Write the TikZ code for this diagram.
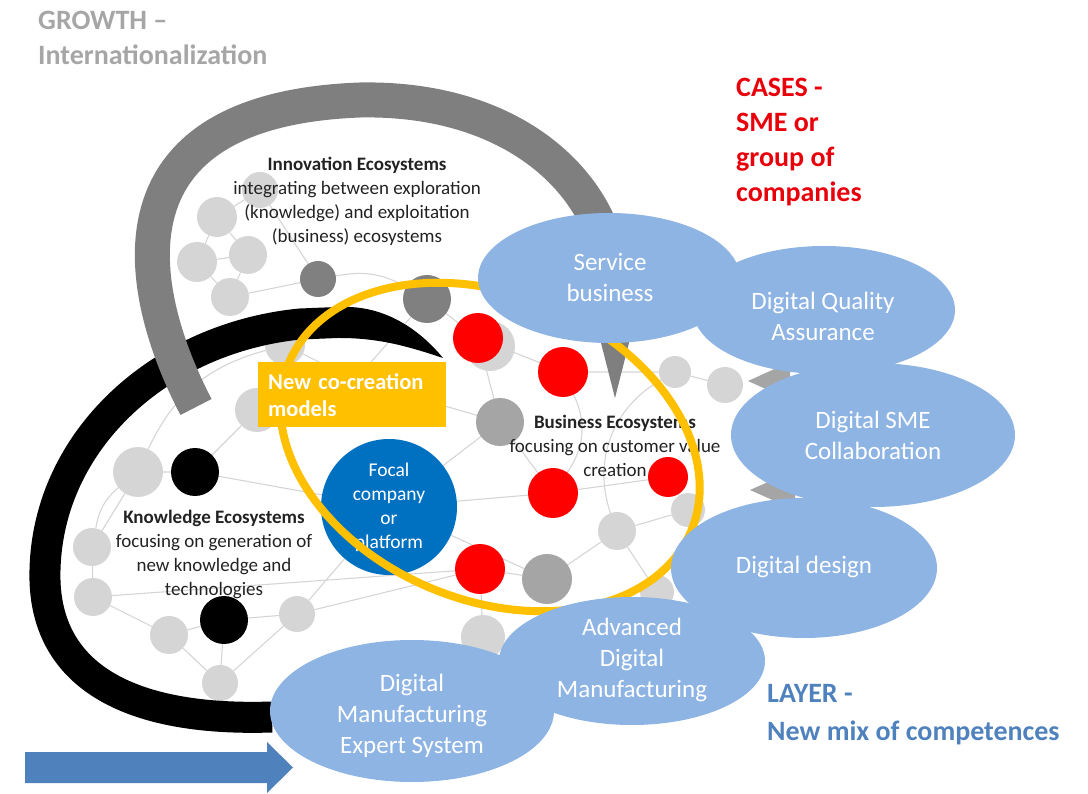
\documentclass[tikz,border=0pt]{standalone}
\usepackage{fontspec}
\setmainfont{Carlito}
\usetikzlibrary{shapes.geometric,backgrounds}
\definecolor{ellblue}{HTML}{8EB4E3}
\definecolor{focalblue}{HTML}{0070C0}
\definecolor{ringyellow}{HTML}{FFC000}
\definecolor{arcgray}{HTML}{7F7F7F}
\definecolor{nodelight}{HTML}{D5D5D5}
\definecolor{nodemid}{HTML}{A5A5A5}
\definecolor{nodedark}{HTML}{808080}
\definecolor{nodered}{HTML}{FF0000}
\definecolor{edgegray}{HTML}{D5D5D5}
\definecolor{growthgray}{HTML}{A6A6A6}
\definecolor{casered}{HTML}{E8000B}
\definecolor{layerblue}{HTML}{4F81BD}
\definecolor{textdark}{HTML}{222222}
\begin{document}
\begin{tikzpicture}[x=1pt,y=-1pt,
  nd/.style={circle,draw=none,inner sep=0pt,outer sep=0pt},
  lg/.style={nd,fill=nodelight},
  mg/.style={nd,fill=nodemid},
  dg/.style={nd,fill=nodedark},
  bk/.style={nd,fill=black},
  rd/.style={nd,fill=nodered},
  edge/.style={draw=edgegray,line width=1.1pt},
  eco/.style={align=center,text=textdark,inner sep=0pt,font=\fontsize{19}{24}\selectfont},
  blob/.style={ellipse,fill=ellblue,draw=none,inner sep=0pt},
  blobtext/.style={align=center,text=white,inner sep=0pt,font=\fontsize{25}{31}\selectfont},
  bigtitle/.style={anchor=north west,align=left,inner sep=0pt,font=\bfseries\fontsize{28}{35}\selectfont},
]
\useasboundingbox (0,0) rectangle (1088,794);

% ---------- network nodes ----------
\node[lg,minimum size=36] (n1) at (260,190) {};
\node[lg,minimum size=40] (n2) at (217,217) {};
\node[lg,minimum size=40] (n3) at (197,262) {};
\node[lg,minimum size=38] (n4) at (248,255) {};
\node[lg,minimum size=38] (n5) at (230,297) {};
\node[lg,minimum size=40] (n6) at (285,345) {};
\node[lg,minimum size=44] (n7) at (257,410) {};
\node[lg,minimum size=36] (n8) at (355,380) {};
\node[lg,minimum size=50] (n9) at (138,472) {};
\node[lg,minimum size=38] (n10) at (92,547) {};
\node[lg,minimum size=38] (n11) at (93,597) {};
\node[lg,minimum size=38] (n12) at (169,635) {};
\node[lg,minimum size=36] (n13) at (297,614) {};
\node[lg,minimum size=36] (n14) at (220,683) {};
\node[lg,minimum size=44] (n15) at (483,637) {};
\node[lg,minimum size=50] (n16) at (490,346) {};
\node[lg,minimum size=32] (n17) at (675,372) {};
\node[lg,minimum size=36] (n18) at (725,385) {};
\node[lg,minimum size=34] (n19) at (688,510) {};
\node[lg,minimum size=38] (n20) at (617,531) {};
\node[lg,minimum size=34] (n21) at (657,592) {};
\node[bk,minimum size=48] (b1) at (195,472) {};
\node[bk,minimum size=48] (b2) at (224,620) {};
\node[dg,minimum size=36] (d1) at (318,279) {};
\node[dg,minimum size=48] (d2) at (427,299) {};
\node[mg,minimum size=48] (m1) at (500,422) {};
\node[mg,minimum size=50] (m2) at (547,579) {};
\node[rd,minimum size=50] (r1) at (478,338) {};
\node[rd,minimum size=50] (r2) at (563,372) {};
\node[rd,minimum size=50] (r3) at (553,493) {};
\node[rd,minimum size=40] (r4) at (668,477) {};
\node[rd,minimum size=50] (r5) at (480,569) {};
\node[circle,fill=focalblue,minimum size=136,inner sep=0pt,text=white,align=center,font=\fontsize{19.5}{24}\selectfont] (focal) at (389,507) {Focal\\company\\or\\platform};

% ---------- network edges (behind) ----------
\begin{scope}[on background layer]
\draw[edge] (n1)--(n2) (n2)--(n3) (n3)--(n4) (n2)--(n4) (n4)--(n5) (n3)--(n5)
  (n1)--(d1) (n5)--(d1);
\draw[edge] (d1) to[bend left=20] (d2);
\draw[edge] (d2)--(r1) (r1)--(r2) (r1)--(m1) (m1)--(focal) (m1)--(r3) (r3)--(r4)
  (r4)--(n19) (n19)--(n20) (n20)--(n21) (n20)--(m2) (r5)--(m2) (r5)--(n13)
  (focal)--(m2) (r5)--(n15) (focal)--(r3) (n17)--(n18) (r2)--(n17);
\draw[edge] (b1)--(n9) (n9)--(n10) (n10)--(n11) (n11)--(n12) (n12)--(b2) (b2)--(n14)
  (n12)--(n14) (n14)--(n13) (b2)--(n13) (n13)--(focal) (b1)--(focal) (n7)--(b1)
  (n11)--(r5) (n7)--(n6) (n6)--(n8) (n8)--(m1) (d2)--(n8);
\draw[edge] (n9) to[bend left=25] (n6);
\draw[edge] (r2) to[bend left=30] (r3);
\draw[edge] (n17) to[bend right=40] (n20);
\draw[edge] (n10) to[bend left=20] (n9);
\end{scope}

% ---------- ecosystem texts ----------
\node[eco] (inno) at (357,201) {\textbf{Innovation Ecosystems}\\integrating between exploration\\(knowledge) and exploitation\\(business) ecosystems};
\node[eco] (know) at (214,554) {\textbf{Knowledge Ecosystems}\\focusing on generation of\\new knowledge and\\technologies};
\node[eco] (busi) at (615,446) {\textbf{Business Ecosystems}\\focusing on customer value\\creation};

% ---------- black arc (knowledge) ----------
\draw[black,line width=31] (272,717) .. controls (120,722) and (42,670) .. (45,570)
  .. controls (48,440) and (160,338) .. (300,324) -- (350,322);
\fill[black] (340,307) .. controls (385,305) and (420,330) .. (443,358)
  .. controls (410,347) and (380,338) .. (340,338) -- cycle;

% ---------- gray arc (innovation) ----------
\draw[arcgray,line width=35] (196,407) .. controls (140,300) and (92,110) .. (360,100)
  .. controls (520,97) and (610,190) .. (613,285);
\fill[arcgray] (585,280) -- (645,280) -- (615,398) -- cycle;

% ---------- yellow ring ----------
\begin{scope}[shift={(490,447)},rotate=-22.6]
\draw[ringyellow,line width=8] (0,0) ellipse [x radius=218,y radius=153];
\end{scope}

% ---------- co-creation box ----------
\node[fill=ringyellow,text=white,font=\bfseries\fontsize{22.5}{27}\selectfont,
  text width=168,align=left,inner xsep=10,inner ysep=0,minimum height=65,
  anchor=north west] (cocreate) at (258,362) {New co-creation\\models};

% ---------- gray bits between blobs ----------
\fill[nodemid] (748,381) -- (790,362) -- (790,400) -- cycle;
\fill[nodemid] (750,490) -- (795,470) -- (795,510) -- cycle;

% ---------- competence blobs ----------
\node[blob,minimum width=262,minimum height=130] (svc) at (609,278) {};
\node[blob,minimum width=262,minimum height=128] (dqa) at (824,310) {};
\node[blob,minimum width=284,minimum height=144] (sme) at (873,435) {};
\node[blob,minimum width=266,minimum height=140] (dd) at (804,568) {};
\node[blob,minimum width=266,minimum height=128] (adm) at (632,661) {};
\node[blob,minimum width=284,minimum height=142] (dmes) at (412,711) {};
\node[blobtext] (svct) at (610,277) {Service\\business};
\node[blobtext] (dqat) at (823,316) {Digital Quality\\Assurance};
\node[blobtext] (smet) at (873,435) {Digital SME\\Collaboration};
\node[blobtext] (ddt) at (804,567) {Digital design};
\node[blobtext] (admt) at (632,660) {Advanced\\Digital\\Manufacturing};
\node[blobtext] (dmest) at (412,716) {Digital\\Manufacturing\\Expert System};

% ---------- titles ----------
\node[bigtitle,text=growthgray] (growth) at (38,11) {GROWTH –\\Internationalization};
\node[bigtitle,text=casered] (cases) at (736,78) {CASES -\\SME or\\group of\\companies};
\node[bigtitle,text=layerblue,font=\bfseries\fontsize{28}{38}\selectfont] (layer) at (767,684) {LAYER -\\New mix of competences};

% ---------- blue arrow ----------
\fill[layerblue] (25,752) -- (267,752) -- (267,742) -- (293,767.5) -- (267,793) -- (267,783) -- (25,783) -- cycle;
\end{tikzpicture}
\end{document}
